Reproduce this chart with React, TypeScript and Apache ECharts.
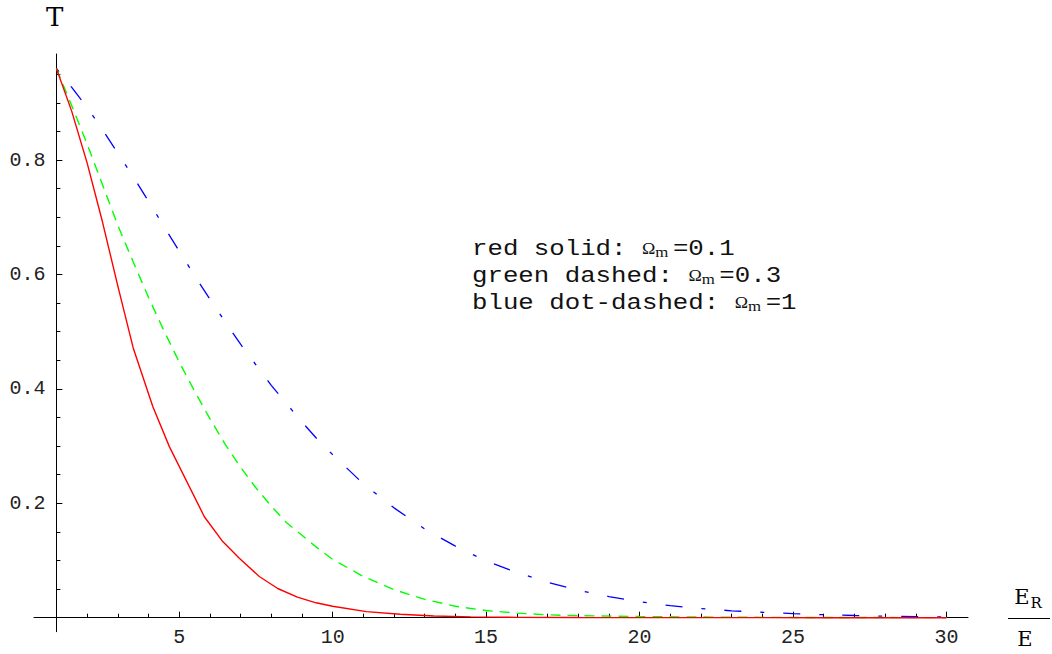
import React, { useEffect, useRef } from "react";
import * as echarts from "echarts";

// ---- data ----
const xMajorTicks = [5, 10, 15, 20, 25, 30];
const xMinorTicks = [2, 3, 4, 6, 7, 8, 9, 11, 12, 13, 14, 16, 17, 18, 19, 21, 22, 23, 24, 26, 27, 28, 29];
const yMajorTicks = [0.2, 0.4, 0.6, 0.8];
const yMinorTicks = [0.05, 0.1, 0.15, 0.25, 0.3, 0.35, 0.45, 0.5, 0.55, 0.65, 0.7, 0.75, 0.85, 0.9, 0.95];

// red solid: Omega_m = 0.1
const redSolid = [
  [1, 0.96], [1.5, 0.885], [2, 0.795], [2.5, 0.692], [3, 0.58], [3.5, 0.472],
  [4.14, 0.369], [4.68, 0.299], [5.82, 0.1765], [6.42, 0.133], [6.96, 0.104],
  [7.61, 0.072], [8.21, 0.051], [8.85, 0.036], [9.46, 0.026], [10, 0.02],
  [11.1, 0.0105], [12.2, 0.006], [13.3, 0.003], [14.5, 0.0015], [16, 0.0005],
  [18, 0.0002], [22, 0.00005], [26, 0], [30, 0],
];

// green dashed: Omega_m = 0.3
const greenDashed = [
  [1, 0.96], [1.5, 0.895], [2, 0.828], [2.5, 0.757], [3, 0.686], [3.5, 0.622],
  [4, 0.56], [4.5, 0.502], [5, 0.447], [5.5, 0.396], [6, 0.348], [6.5, 0.303],
  [7, 0.263], [7.5, 0.227], [8, 0.195], [8.5, 0.166], [9, 0.144], [9.5, 0.122],
  [10, 0.102], [11, 0.072], [12, 0.049], [13, 0.032], [14, 0.02], [15, 0.0125],
  [16, 0.008], [17, 0.005], [18, 0.0035], [20, 0.002], [23, 0.0008], [26, 0.0003],
  [30, 0.0001],
];

// blue dot-dashed: Omega_m = 1
const blueDotDashed = [
  [1, 0.96], [1.5, 0.927], [2, 0.892], [2.5, 0.853], [3, 0.812], [3.5, 0.771],
  [4, 0.728], [4.5, 0.684], [5, 0.641], [5.5, 0.598], [6, 0.557], [6.5, 0.517],
  [7, 0.478], [7.5, 0.442], [8, 0.406], [8.5, 0.374], [9, 0.342], [9.5, 0.312],
  [10, 0.285], [11, 0.234], [12, 0.192], [13, 0.155], [14, 0.125], [15, 0.099],
  [16, 0.079], [17, 0.062], [18, 0.048], [19, 0.037], [20, 0.028], [21, 0.021],
  [22, 0.016], [23, 0.012], [24, 0.0095], [25, 0.0072], [26, 0.0052], [27, 0.0038],
  [28, 0.0026], [29, 0.0018], [30, 0.0012],
];

const legendLines = [
  { text: "red solid: ", value: "=0.1" },
  { text: "green dashed: ", value: "=0.3" },
  { text: "blue dot-dashed: ", value: "=1" },
];

// ---- layout ----
const W = 1052;
const H = 654;
const X_MIN = 0.27;
const X_MAX = 30.7;
const Y_MIN = -0.0245;
const Y_MAX = 0.9853;
const GRID = { left: 34, right: 84, top: 54, bottom: 22.3 };
const AXIS_CROSS_X = 1;
const AXIS_CROSS_Y = 0;

const MONO = '"Liberation Mono", "Courier New", monospace';
const SERIF = '"DejaVu Serif", serif';
const TIMES = '"Liberation Serif", "Times New Roman", serif';
const AXIS_COLOR = "#000";
const LABEL_COLOR = "#222";

export default function App() {
  const ref = useRef<HTMLDivElement>(null);

  useEffect(() => {
    if (!ref.current) return;
    const chart = echarts.init(ref.current, undefined, { renderer: "svg" });

    const gridW = W - GRID.left - GRID.right;
    const gridH = H - GRID.top - GRID.bottom;
    const yAxisOffset = -((AXIS_CROSS_X - X_MIN) / (X_MAX - X_MIN)) * gridW;
    const xAxisOffset = -((AXIS_CROSS_Y - Y_MIN) / (Y_MAX - Y_MIN)) * gridH;

    const baseX = {
      type: "value",
      min: X_MIN,
      max: X_MAX,
      position: "bottom",
      offset: xAxisOffset,
      splitLine: { show: false },
    };
    const baseY = {
      type: "value",
      min: Y_MIN,
      max: Y_MAX,
      position: "left",
      offset: yAxisOffset,
      splitLine: { show: false },
    };

    const legendItems = legendLines.map((l, i) => ({
      type: "text",
      x: 472,
      y: 249 + i * 27,
      scaleX: 1.12,
      style: {
        text: `{t|${l.text}}{o|Ω}{m|m}{t|${l.value}}`,
        align: "left",
        verticalAlign: "middle",
        fill: "#111",
        rich: {
          t: { fontFamily: MONO, fontSize: 23, lineHeight: 24, fill: "#111" },
          o: { fontFamily: TIMES, fontSize: 16, lineHeight: 17, fill: "#111" },
          m: { fontFamily: TIMES, fontSize: 15, lineHeight: 15, fill: "#111", padding: [6, 4, 0, 0] },
        },
      },
    }));

    chart.setOption({
      animation: false,
      backgroundColor: "#fff",
      grid: { ...GRID, containLabel: false },
      xAxis: [
        {
          ...baseX,
          axisLine: { show: true, onZero: false, lineStyle: { color: AXIS_COLOR, width: 1 } },
          axisTick: { show: true, inside: true, length: 4, customValues: xMinorTicks, lineStyle: { color: AXIS_COLOR } },
          axisLabel: { show: false },
        },
        {
          ...baseX,
          axisLine: { show: false, onZero: false },
          axisTick: { show: true, inside: true, length: 6, customValues: xMajorTicks, lineStyle: { color: AXIS_COLOR } },
          axisLabel: {
            show: true,
            customValues: xMajorTicks,
            margin: 10,
            color: LABEL_COLOR,
            fontFamily: MONO,
            fontSize: 20,
            formatter: (v: number) => String(Math.round(v)),
          },
        },
      ],
      yAxis: [
        {
          ...baseY,
          axisLine: { show: true, onZero: false, lineStyle: { color: AXIS_COLOR, width: 1 } },
          axisTick: { show: true, inside: true, length: 4, customValues: yMinorTicks, lineStyle: { color: AXIS_COLOR } },
          axisLabel: { show: false },
        },
        {
          ...baseY,
          axisLine: { show: false, onZero: false },
          axisTick: { show: true, inside: true, length: 6, customValues: yMajorTicks, lineStyle: { color: AXIS_COLOR } },
          axisLabel: {
            show: true,
            customValues: yMajorTicks,
            margin: 11,
            color: LABEL_COLOR,
            fontFamily: MONO,
            fontSize: 20,
            formatter: (v: number) => v.toFixed(1),
          },
        },
      ],
      series: [
        {
          type: "line",
          name: "blue dot-dashed",
          data: blueDotDashed,
          xAxisIndex: 0,
          yAxisIndex: 0,
          showSymbol: false,
          symbol: "none",
          lineStyle: { color: "#0000ff", width: 1.3, type: [4, 19, 17, 19] },
          silent: true,
        },
        {
          type: "line",
          name: "green dashed",
          data: greenDashed,
          xAxisIndex: 0,
          yAxisIndex: 0,
          showSymbol: false,
          symbol: "none",
          lineStyle: { color: "#00ff00", width: 1.4, type: [10, 7] },
          silent: true,
        },
        {
          type: "line",
          name: "red solid",
          data: redSolid,
          xAxisIndex: 0,
          yAxisIndex: 0,
          showSymbol: false,
          symbol: "none",
          lineStyle: { color: "#ff0000", width: 1.4, type: "solid" },
          silent: true,
        },
      ],
      graphic: [
        {
          type: "text",
          x: 46,
          y: 17,
          style: {
            text: "T",
            font: `26px ${SERIF}`,
            fill: "#000",
            align: "left",
            verticalAlign: "middle",
          },
        },
        ...legendItems,
        {
          type: "group",
          children: [
            {
              type: "text",
              x: 1028,
              y: 597,
              style: {
                text: "{e|E}{r|R}",
                align: "center",
                verticalAlign: "middle",
                rich: {
                  e: { fontFamily: SERIF, fontSize: 21, fill: "#000" },
                  r: { fontFamily: SERIF, fontSize: 15, fill: "#000", padding: [12, 0, 0, 1] },
                },
              },
            },
            {
              type: "line",
              shape: { x1: 1008, y1: 618.5, x2: 1050, y2: 618.5 },
              style: { stroke: "#000", lineWidth: 1 },
            },
            {
              type: "text",
              x: 1025,
              y: 639,
              style: {
                text: "E",
                font: `21px ${SERIF}`,
                fill: "#000",
                align: "center",
                verticalAlign: "middle",
              },
            },
          ],
        },
      ],
    });

    return () => chart.dispose();
  }, []);

  return (
    <div
      ref={ref}
      style={{ position: "absolute", left: 0, top: 0, width: W, height: H, background: "#fff" }}
    />
  );
}
